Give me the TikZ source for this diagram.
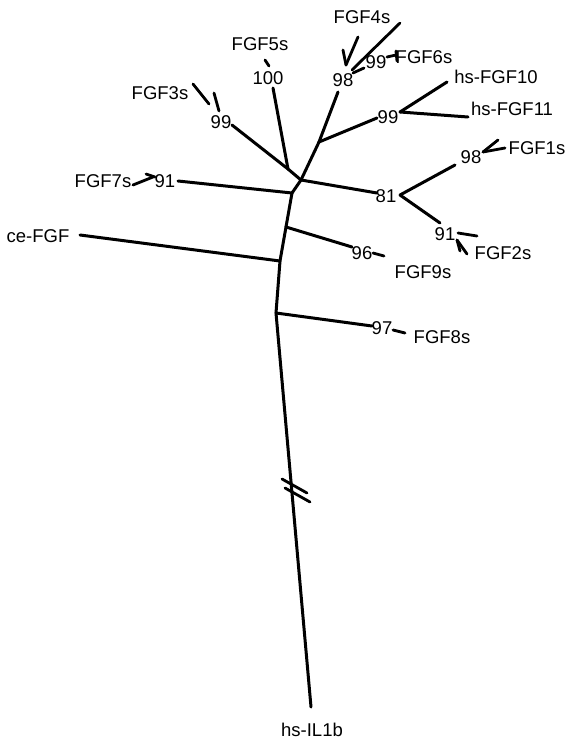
\documentclass[tikz,border=0pt]{standalone}
\usepackage{fontspec}
\setmainfont{Liberation Sans}
\usepackage{tikz}
\usetikzlibrary{positioning}
\tikzstyle{lbl} = [inner sep = 0pt, font=\fontsize{18.5}{20}\selectfont]
\tikzstyle{jnode} = [coordinate]
\tikzstyle{line} = [draw, line width = 3pt]
\tikzstyle{tick} = [draw, line width = 2.8pt]

\begin{document}
\begin{tikzpicture}[x=1pt, y=-1pt, line cap=round, line join=round]
			\useasboundingbox (0,0) rectangle (569,741);
			% inner junctions of the tree
			\node [jnode] (j1) at (301,180) {};
			\node [jnode] (j2) at (319,142) {};
			\node [jnode] (j3) at (288,169) {};
			\node [jnode] (j4) at (292,193) {};
			\node [jnode] (j5) at (286,227) {};
			\node [jnode] (j6) at (280,261) {};
			\node [jnode] (j7) at (276,313) {};
			\node [jnode] (root) at (311,707) {};
			
			% labels
			\node [lbl] (fgf4) at (362,17) {FGF4s};
			\node [lbl] (fgf5) at (260,44) {FGF5s};
			\node [lbl] (b100) at (268,78) {100};
			\node [lbl] (b98a) at (343,80) {98};
			\node [lbl] (b99a) at (376,62) {99};
			\node [lbl] (fgf6) at (424,57) {FGF6s};
			\node [lbl] (fgf10) at (496,77) {hs-FGF10};
			\node [lbl] (fgf11) at (512,109) {hs-FGF11};
			\node [lbl] (b99b) at (388,117) {99};
			\node [lbl] (fgf3) at (160,93) {FGF3s};
			\node [lbl] (b99c) at (221,122) {99};
			\node [lbl] (fgf7) at (103,181) {FGF7s};
			\node [lbl] (b91a) at (165,181) {91};
			\node [lbl] (cefgf) at (38,236) {ce-FGF};
			\node [lbl] (b81) at (386,196) {81};
			\node [lbl] (b98b) at (471,157) {98};
			\node [lbl] (fgf1) at (537,148) {FGF1s};
			\node [lbl] (b91b) at (445,234) {91};
			\node [lbl] (fgf2) at (503,253) {FGF2s};
			\node [lbl] (b96) at (362,253) {96};
			\node [lbl] (fgf9) at (423,272) {FGF9s};
			\node [lbl] (b97) at (382,328) {97};
			\node [lbl] (fgf8) at (442,337) {FGF8s};
			\node [lbl] (il1b) at (312,730) {hs-IL1b};
			
			% branch ends
			\node [jnode] (e100) at (273,88) {};
			\node [jnode] (e98a) at (338,92) {};
			\node [jnode] (e99b) at (377,118) {};
			\node [jnode] (e99c) at (232,125) {};
			\node [jnode] (e91a) at (178,181) {};
			\node [jnode] (e81) at (377,193) {};
			\node [jnode] (e96) at (352,247) {};
			\node [jnode] (ece) at (80,235) {};
			\node [jnode] (e97) at (372,326) {};
			\node [jnode] (f99b) at (400,112) {};
			\node [jnode] (e10) at (447,82) {};
			\node [jnode] (e11) at (468,117) {};
			\node [jnode] (f81) at (400,195) {};
			\node [jnode] (e98b) at (455,165) {};
			\node [jnode] (e91b) at (440,223) {};
			
			% trunk
			\path [line] (j3) -- (j1);
			\path [line] (j2) -- (j1);
			\path [line] (j1) -- (j4);
			\path [line] (j4) -- (j5);
			\path [line] (j5) -- (j6);
			\path [line] (j6) -- (j7);
			\path [line] (j7) -- (root);
			
			% branches
			\path [line] (j3) -- (e100);
			\path [line] (j3) -- (e99c);
			\path [line] (j2) -- (e98a);
			\path [line] (j2) -- (e99b);
			\path [line] (f99b) -- (e10);
			\path [line] (f99b) -- (e11);
			\path [line] (j1) -- (e81);
			\path [line] (f81) -- (e98b);
			\path [line] (f81) -- (e91b);
			\path [line] (j4) -- (e91a);
			\path [line] (j5) -- (e96);
			\path [line] (j6) -- (ece);
			\path [line] (j7) -- (e97);
			
			% short terminal twigs
			\path [tick] (265,60) -- (269,66);
			\path [tick] (346,65) -- (343,50);
			\path [tick] (346,65) -- (358,37);
			\path [tick] (352,70) -- (400,23);
			\path [tick] (353,73) -- (364,68);
			\path [tick] (387,57) -- (396,55);
			\path [tick] (396,51) -- (397,61);
			\path [tick] (193,84) -- (209,104);
			\path [tick] (214,93) -- (219,111);
			\path [tick] (133,185) -- (153,177);
			\path [tick] (146,174) -- (155,177);
			\path [tick] (483,152) -- (498,140);
			\path [tick] (483,152) -- (505,148);
			\path [tick] (458,233) -- (477,236);
			\path [tick] (457,240) -- (467,254);
			\path [tick] (457,240) -- (460,251);
			\path [tick] (373,253) -- (384,256);
			\path [tick] (393,330) -- (405,333);
			
			% break marks
			\path [tick] (282,479) -- (307,493);
			\path [tick] (285,488) -- (310,502);
		\end{tikzpicture}
\end{document}
